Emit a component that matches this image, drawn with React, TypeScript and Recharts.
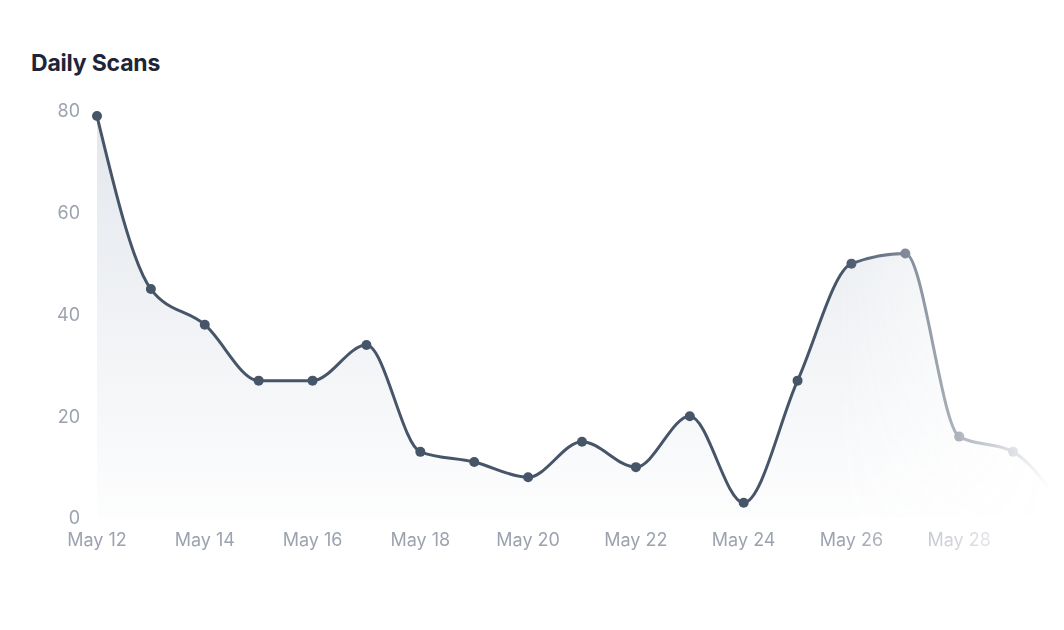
import { AreaChart, Area, XAxis, YAxis } from "recharts";

const days = [
  "May 12", "May 13", "May 14", "May 15", "May 16", "May 17", "May 18",
  "May 19", "May 20", "May 21", "May 22", "May 23", "May 24", "May 25",
  "May 26", "May 27", "May 28", "May 29", "May 30",
];
const scans = [79, 45, 38, 27, 27, 34, 13, 11, 8, 15, 10, 20, 3, 27, 50, 52, 16, 13, 1];
const xTicks = ["May 12", "May 14", "May 16", "May 18", "May 20", "May 22", "May 24", "May 26", "May 28"];
const yTicks = [0, 20, 40, 60, 80];

const data = days.map((day, i) => ({ day, scans: scans[i] }));

const LINE = "#475569";
const LABEL = "#9ca3af";
const FONT = "Inter, 'Noto Sans', sans-serif";

export default function App() {
  return (
    <div
      style={{
        position: "absolute",
        left: 0,
        top: 0,
        width: 1064,
        height: 630,
        overflow: "hidden",
        background: "#fff",
        fontFamily: FONT,
      }}
    >
      <div
        style={{
          position: "absolute",
          left: 31,
          top: 48,
          fontSize: 23,
          lineHeight: "30px",
          fontWeight: 700,
          color: "#1e2538",
          letterSpacing: -0.2,
        }}
      >
        Daily Scans
      </div>
      <div
        style={{
          position: "absolute",
          left: 0,
          top: 0,
          WebkitMaskImage: "linear-gradient(to right, #000 840px, transparent 1050px)",
          maskImage: "linear-gradient(to right, #000 840px, transparent 1050px)",
        }}
      >
        <AreaChart
          width={1110}
          height={630}
          data={data}
          margin={{ top: 111, right: 43, bottom: 82, left: 37 }}
        >
          <defs>
            <linearGradient id="scanFill" x1="0" y1="0" x2="0" y2="1">
              <stop offset="0%" stopColor="#94a3b8" stopOpacity={0.26} />
              <stop offset="100%" stopColor="#94a3b8" stopOpacity={0.02} />
            </linearGradient>
          </defs>
          <XAxis
            dataKey="day"
            ticks={xTicks}
            interval={0}
            axisLine={false}
            tickLine={false}
            tickSize={0}
            tickMargin={15}
            tick={{ fill: LABEL, fontSize: 18, fontFamily: FONT }}
          />
          <YAxis
            width={60}
            domain={[0, 80]}
            ticks={yTicks}
            axisLine={false}
            tickLine={false}
            tickSize={0}
            tickMargin={17}
            tick={{ fill: LABEL, fontSize: 18, fontFamily: FONT }}
          />
          <Area
            type="monotone"
            dataKey="scans"
            stroke={LINE}
            strokeWidth={3}
            fill="url(#scanFill)"
            fillOpacity={1}
            dot={{ r: 5, fill: LINE, fillOpacity: 1, stroke: "none", strokeWidth: 0 }}
            activeDot={false}
            isAnimationActive={false}
          />
        </AreaChart>
      </div>
    </div>
  );
}
